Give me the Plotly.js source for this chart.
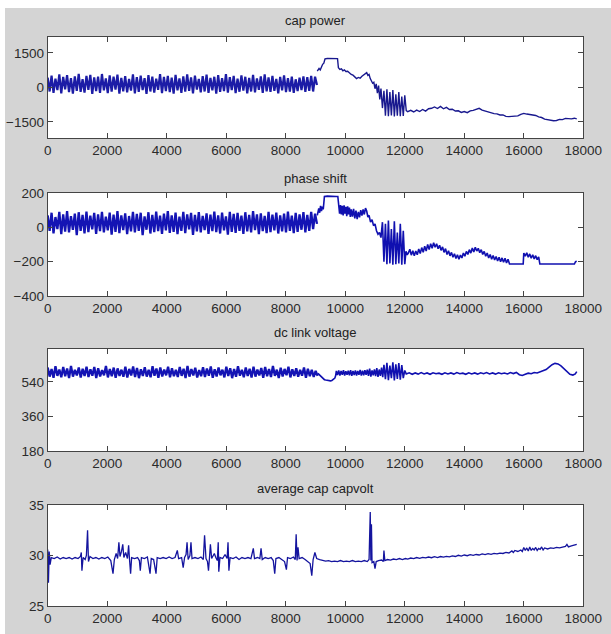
<!DOCTYPE html>
<html>
<head>
<meta charset="utf-8">
<script src="https://cdn.plot.ly/plotly-3.0.1.min.js"></script>
<style>
html,body{margin:0;padding:0;background:#d4d4d4;}
#chart{width:611px;height:634px;}
</style>
</head>
<body>
<div id="chart"></div>
<script>
// ---------------- DATA ----------------
const panelTitles = ["cap power", "phase shift", "dc link voltage", "average cap capvolt"];
const xTickVals = [0, 2000, 4000, 6000, 8000, 10000, 12000, 14000, 16000, 18000];
const xTickText = ["0", "2000", "4000", "6000", "8000", "10000", "12000", "14000", "16000", "18000"];

const yTickVals1 = [-1500, 0, 1500];
const yTickVals2 = [-400, -200, 0, 200];
const yTickVals3 = [180, 360, 540];
const yTickVals4 = [25, 30, 35];

// cap power: oscillating segment (uniform samples 0..9050), then read points
const capPowerOscEnd = 9050;
const capPowerOscY = [
  420,-180,510,-240,380,-120,560,-260,450,-90,530,-210,400,-270,480,-150,590,-200,360,-230,
  500,-110,540,-280,430,-160,470,-240,580,-130,390,-250,520,-190,460,-100,550,-270,410,-170,
  490,-220,370,-140,560,-260,440,-200,510,-120,400,-280,530,-180,470,-230,380,-110,570,-250,
  450,-160,500,-210,420,-270,540,-130,390,-240,480,-190,560,-150,430,-260,510,-100,370,-220,
  490,-180,550,-240,410,-130,460,-270,530,-200,400,-160,570,-230,440,-120,500,-250,380,-190,
  520,-140,460,-260,410,-180,540,-220,390,-110,480,-240,560,-170,430,-200,500,-150,370,-260,
  450,-130,520,-210,400,-180,470,-240,350,-160,420,-120,480,-200,440,-150,500,-180,460,100
];
const capPowerTailX = [
  9060,9120,9160,9200,9240,9280,9320,9400,9500,9600,9700,9740,9770,9820,9870,9920,9970,10020,10080,10140,
  10200,10260,10320,10380,10440,10500,10560,10620,10680,10720,10760,10800,10840,10880,10920,10960,11000,11040,11080,11120,
  11160,11200,11250,11300,11350,11400,11450,11500,11550,11600,11650,11700,11750,11800,11850,11900,11950,12000,12050,
  12100,12200,12300,12400,12500,12600,12700,12800,12900,13000,13100,13200,13300,13400,13500,13600,13700,13800,13900,14000,
  14100,14200,14300,14400,14500,14600,14700,14800,14900,15000,15100,15200,15300,15400,15500,15600,15700,15800,15900,16000,
  16100,16200,16300,16400,16500,16600,16700,16800,16900,17000,17100,17200,17300,17400,17500,17600,17700,17780
];
const capPowerTailY = [
  700,820,760,900,1000,1050,1240,1255,1245,1255,1250,1250,850,780,800,720,760,690,700,620,
  560,530,450,380,430,400,480,530,600,640,520,560,380,300,180,220,-60,150,-250,80,
  -520,-50,-900,-150,-1230,-80,-1250,-200,-1220,-120,-1260,-300,-1230,-200,-1250,-400,-1240,-350,-1010,
  -1060,-1000,-1070,-990,-1050,-960,-1030,-930,-910,-850,-920,-830,-930,-870,-960,-950,-1030,-1020,-1090,-1050,
  -1100,-1020,-1000,-950,-910,-990,-1030,-1080,-1100,-1140,-1150,-1200,-1200,-1260,-1270,-1270,-1250,-1240,-1170,-1130,
  -1160,-1180,-1170,-1220,-1280,-1310,-1380,-1400,-1450,-1450,-1440,-1390,-1400,-1350,-1360,-1370,-1340,-1370
];

// phase shift
const phaseOscEnd = 9050;
const phaseOscY = [
  70,-20,85,-35,60,-10,90,-40,75,-25,95,-30,65,-15,80,-45,88,-20,72,-35,
  92,-28,68,-12,84,-38,76,-22,90,-30,62,-18,86,-42,74,-26,94,-34,70,-16,
  82,-40,66,-24,90,-30,78,-20,85,-45,64,-14,88,-36,72,-28,92,-22,68,-38,
  80,-18,94,-32,70,-26,86,-40,62,-20,90,-34,76,-12,84,-44,72,-24,88,-30,
  66,-16,82,-38,74,-22,92,-28,70,-36,86,-18,64,-42,90,-26,78,-32,84,-20,
  68,-38,88,-24,72,-30,94,-16,76,-40,82,-22,66,-34,90,-28,74,-18,86,-36,
  70,-24,80,-30,92,-20,68,-34,84,-26,76,-14,88,-30,72,-20,90,-10,80,20
];
const phaseTailX = [
  9060,9110,9140,9170,9200,9230,9260,9300,9400,9500,9600,9700,9750,9780,9810,9840,9870,9900,9930,9960,
  9990,10020,10050,10080,10110,10140,10170,10200,10240,10280,10320,10360,10400,10440,10480,10520,10560,10600,10640,10680,
  10720,10760,10800,10850,10900,10950,11000,11050,11100,11150,11200,11250,11300,11350,11400,11450,11500,11550,11600,11650,
  11700,11750,11800,11850,11900,11950,12000,12040,12080,
  12120,12170,12220,12270,12320,12370,12420,12470,12520,12570,12620,12670,12720,12770,12820,12870,12920,12970,13020,13070,
  13120,13170,13220,13270,13320,13370,13420,13470,13520,13570,13620,13670,13720,13770,13820,13870,13920,13970,14020,14070,
  14120,14170,14220,14270,14320,14370,14420,14470,14520,14570,14620,14670,14720,14770,14820,14870,14920,14970,15020,15070,
  15120,15170,15220,15270,15320,15370,15420,15470,15520,15600,15700,15800,15900,15980,16000,16050,16100,16150,16200,16250,
  16300,16350,16400,16450,16500,16540,16700,17000,17300,17600,17700,17740,17780
];
const phaseTailY = [
  70,110,85,125,95,120,105,180,182,180,182,180,180,125,80,130,75,125,70,128,
  80,120,65,122,75,115,60,105,62,108,52,98,48,90,58,100,68,105,75,112,
  95,60,70,30,45,10,20,-20,-40,-30,-60,30,-200,20,-215,40,-210,-10,-218,35,
  -215,-30,-210,20,-218,-20,-215,-140,-160,
  -150,-128,-162,-136,-165,-138,-160,-126,-152,-118,-145,-110,-138,-100,-130,-96,-122,-90,-116,-96,
  -125,-104,-134,-114,-146,-124,-158,-136,-166,-146,-174,-154,-182,-160,-186,-162,-178,-150,-168,-140,
  -158,-130,-150,-120,-144,-116,-138,-122,-148,-130,-158,-140,-168,-150,-178,-158,-186,-164,-190,-170,
  -196,-174,-200,-178,-204,-180,-208,-186,-214,-214,-214,-214,-214,-214,-150,-168,-148,-174,-155,-180,
  -160,-184,-165,-188,-172,-214,-214,-214,-214,-214,-214,-200,-198
];

// dc link voltage
const dcOscEnd = 9070;
const dcOscY = [
  615,568,608,562,622,572,605,565,618,570,610,560,624,568,603,574,616,563,609,571,
  620,566,606,573,618,561,612,569,602,575,623,564,607,570,615,562,611,572,604,567,
  619,563,608,574,621,566,613,560,606,571,617,568,603,565,622,573,610,562,616,569,
  605,575,620,564,611,570,603,566,618,572,609,561,624,568,607,574,614,563,602,570,
  617,566,610,573,621,562,606,569,615,575,604,564,619,571,612,560,608,567,622,573,
  603,565,616,571,609,563,620,568,605,574,613,562,618,570,607,566,623,572,604,561,
  614,569,608,575,619,564,606,571,612,567,603,573,616,562,609,570,604,566,598,572
];
const dcTailX = [
  9080,9150,9200,9250,9300,9350,9400,9450,9500,9550,9600,9650,9680,
  9700,9740,9780,9820,9860,9900,9940,9980,10020,10060,10100,10140,10180,10220,10260,10300,10340,10380,10420,10460,
  10500,10540,10580,10620,10660,10700,10740,10780,10820,10860,10900,10940,10980,11020,11060,11100,11140,11180,11220,11260,
  11300,11350,11400,11450,11500,11550,11600,11650,11700,11750,11800,11850,11900,11950,12000,
  12050,12150,12250,12350,12450,12550,12650,12750,12850,12950,13050,13150,13250,13350,13450,13550,13650,13750,13850,13950,
  14050,14150,14250,14350,14450,14550,14650,14750,14850,14950,15050,15150,15250,15350,15450,15550,15650,15750,15850,15950,
  16050,16150,16250,16350,16450,16550,16650,16750,16850,16950,17050,17150,17250,17350,17450,17550,17650,17730,17780
];
const dcTailY = [
  585,575,565,558,552,550,548,547,546,548,552,560,575,
  598,576,600,573,597,577,601,574,596,578,599,575,602,572,598,576,600,574,597,578,
  603,573,599,575,601,577,604,572,610,568,600,575,606,570,612,566,605,572,615,565,
  630,555,640,550,625,560,642,548,632,556,638,552,628,560,600,
  582,588,580,587,581,589,582,587,580,588,583,586,580,588,582,587,581,589,583,586,
  580,588,582,587,581,588,583,589,582,587,581,588,583,587,582,589,584,590,578,574,
  580,586,583,589,587,592,596,605,618,630,637,634,624,608,592,580,576,582,594
];

// average cap capvolt
const capVoltX = [
  0,25,50,80,120,220,320,420,520,620,720,820,920,1020,1100,1130,1150,1190,1260,1300,
  1340,1370,1420,1520,1620,1720,1820,1920,2020,2120,2195,2240,2300,2350,2392,2430,2480,2523,2560,2620,
  2680,2719,2750,2786,2820,2920,3020,3080,3112,3150,3250,3350,3440,3480,3560,3640,3680,3780,3880,3980,
  4080,4180,4280,4356,4400,4500,4553,4600,4650,4683,4720,4780,4815,4850,4950,5050,5150,5230,5272,5320,
  5370,5404,5440,5468,5510,5600,5650,5700,5731,5750,5790,5880,5960,6030,6060,6090,6130,6230,6330,6430,
  6530,6630,6730,6830,6910,6950,7050,7130,7170,7210,7310,7410,7510,7580,7630,7670,7770,7870,7960,8022,
  8060,8160,8260,8320,8350,8380,8412,8450,8550,8650,8750,8820,8875,8920,8980,9040,9140,9240,9340,9440,
  9540,9640,9740,9840,9940,10040,10140,10240,10340,10440,10540,10640,10740,10800,10840,10860,10880,10900,10960,11000,
  11040,11120,11220,11280,11300,11330,11420,11520,11620,11720,11820,11920,12020,
  12100,12200,12300,12400,12500,12600,12700,12800,12900,13000,13100,13200,13300,13400,13500,13600,13700,13800,13900,14000,
  14100,14200,14300,14400,14500,14600,14700,14800,14900,15000,15100,15200,15300,15400,15500,15600,15650,15700,15800,15900,
  15950,16000,16050,16100,16150,16200,16250,16300,16350,16400,16450,16500,16550,16600,16650,16700,16800,16900,17000,17100,
  17200,17300,17400,17450,17500,17600,17700,17780
];
const capVoltY = [
  30.6,27.3,30.4,29.1,29.8,29.7,29.85,29.65,29.8,29.7,29.8,29.65,29.8,29.7,29.9,30.3,28.5,29.8,29.6,30.0,
  32.5,29.4,29.9,29.7,29.8,29.65,29.8,29.7,29.85,29.5,28.2,29.6,30.2,29.7,31.3,29.9,30.4,31.1,29.8,30.3,
  29.7,31.0,29.6,28.2,29.8,29.7,29.8,29.5,28.5,29.8,29.7,29.85,28.2,29.7,29.6,28.2,29.8,29.7,29.8,29.7,
  29.85,29.7,29.8,30.5,29.7,29.8,28.8,29.8,30.1,31.3,29.6,30.0,31.3,29.7,29.8,29.7,29.85,29.6,32.0,29.7,
  29.4,28.5,29.9,31.1,29.7,30.2,29.8,29.5,31.3,28.4,29.8,29.7,30.1,29.7,31.3,28.5,29.8,29.7,29.85,29.6,
  29.8,29.7,29.8,29.7,30.7,29.7,29.8,29.7,30.7,29.6,29.8,29.7,29.8,29.5,28.2,29.7,29.8,29.6,29.4,28.6,
  29.8,29.7,29.85,29.6,32.1,29.5,30.8,29.7,29.8,29.6,29.4,29.2,28.0,29.6,30.3,29.7,29.6,29.5,29.45,29.5,
  29.4,29.45,29.4,29.5,29.4,29.45,29.4,29.5,29.4,29.45,29.4,29.5,29.4,29.6,34.3,29.5,33.1,29.3,29.4,28.7,
  29.4,29.5,29.55,29.4,30.5,29.5,29.6,29.55,29.65,29.6,29.7,29.6,29.7,
  29.65,29.75,29.7,29.8,29.72,29.82,29.76,29.85,29.78,29.88,29.8,29.9,29.84,29.92,29.86,29.96,29.9,30.02,29.94,30.05,
  29.98,30.08,30.02,30.1,30.05,30.15,30.08,30.18,30.12,30.2,30.16,30.24,30.2,30.3,30.25,30.45,30.3,30.5,30.4,30.55,
  30.4,30.8,30.5,30.75,30.45,30.85,30.5,30.7,30.55,30.8,30.5,30.7,30.6,30.85,30.55,30.75,30.65,30.75,30.7,30.8,
  30.75,30.85,30.9,31.1,30.85,30.95,31.0,31.1
];

// ---------------- BUILD ----------------
function sampleGrid(values, endX) {
  const n = values.length;
  return values.map((_, i) => i * endX / (n - 1));
}

const oscColor = "#1414b4";
const traces = [
  {x: sampleGrid(capPowerOscY, capPowerOscEnd), y: capPowerOscY, xaxis: "x", yaxis: "y", line: {color: "#1c1ca6", width: 2.2}},
  {x: capPowerTailX, y: capPowerTailY, xaxis: "x", yaxis: "y", line: {color: "#18188e", width: 1.4}},
  {x: sampleGrid(phaseOscY, phaseOscEnd), y: phaseOscY, xaxis: "x2", yaxis: "y2", line: {color: oscColor, width: 2.3}},
  {x: phaseTailX, y: phaseTailY, xaxis: "x2", yaxis: "y2", line: {color: "#1010b0", width: 1.6}},
  {x: sampleGrid(dcOscY, dcOscEnd), y: dcOscY, xaxis: "x3", yaxis: "y3", line: {color: oscColor, width: 2.3}},
  {x: dcTailX, y: dcTailY, xaxis: "x3", yaxis: "y3", line: {color: "#1010b0", width: 1.6}},
  {x: capVoltX, y: capVoltY, xaxis: "x4", yaxis: "y4", line: {color: "#14149e", width: 1.3}}
].map(t => Object.assign(t, {type: "scatter", mode: "lines", hoverinfo: "skip"}));

const W = 611, H = 634;
const xDom = [47.7 / W, 583.3 / W];
const boxes = [[36.7, 138], [193, 296], [349, 451], [505, 606]];
const titleY = [20, 178, 332, 488];
const font = {family: "Liberation Sans, Arial, sans-serif", size: 13.5, color: "#2b2b2b"};

function xAxis(i) {
  return {
    domain: xDom, anchor: "y" + (i === 1 ? "" : i), range: [0, 18000],
    tickvals: xTickVals, ticktext: xTickText, ticks: "inside", ticklen: 5, tickcolor: "#444",
    mirror: "ticks", showline: true, linecolor: "#444", linewidth: 1,
    showgrid: false, zeroline: false, tickfont: font, automargin: false, fixedrange: true
  };
}
function yAxis(i, range, vals) {
  const b = boxes[i - 1];
  return {
    domain: [1 - b[1] / H, 1 - b[0] / H], anchor: "x" + (i === 1 ? "" : i), range: range,
    tickvals: vals, ticks: "inside", ticklen: 5, tickcolor: "#444",
    mirror: "ticks", showline: true, linecolor: "#444", linewidth: 1,
    showgrid: false, zeroline: false, tickfont: font, automargin: false, fixedrange: true
  };
}

const layout = {
  width: W, height: H,
  margin: {l: 0, r: 0, t: 0, b: 0},
  paper_bgcolor: "#d4d4d4", plot_bgcolor: "#ffffff",
  showlegend: false,
  xaxis: xAxis(1), xaxis2: xAxis(2), xaxis3: xAxis(3), xaxis4: xAxis(4),
  yaxis: yAxis(1, [-2200, 2200], yTickVals1),
  yaxis2: yAxis(2, [-400, 200], yTickVals2),
  yaxis3: yAxis(3, [180, 712], yTickVals3),
  yaxis4: yAxis(4, [25, 35], yTickVals4),
  annotations: panelTitles.map((t, i) => ({
    text: t, xref: "paper", yref: "paper", x: (xDom[0] + xDom[1]) / 2, y: 1 - titleY[i] / H,
    xanchor: "center", yanchor: "middle", showarrow: false,
    font: {family: "Liberation Sans, Arial, sans-serif", size: 13, color: "#222"}
  })),
  shapes: [
    {type: "rect", xref: "paper", yref: "paper", x0: 0, x1: 5 / W, y0: 0, y1: 1, fillcolor: "#ffffff", line: {width: 0}, layer: "below"},
    {type: "rect", xref: "paper", yref: "paper", x0: 0, x1: 1, y0: 1 - 8 / H, y1: 1, fillcolor: "#ffffff", line: {width: 0}, layer: "below"}
  ]
};

Plotly.newPlot("chart", traces, layout, {staticPlot: true, displayModeBar: false});
</script>
</body>
</html>
